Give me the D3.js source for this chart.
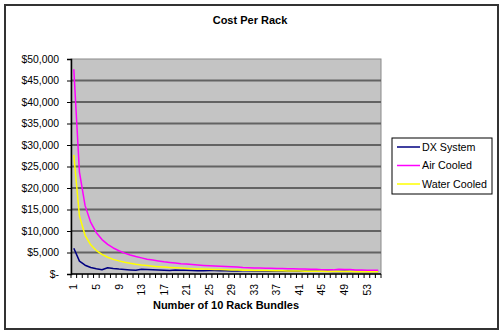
<!DOCTYPE html>
<html>
<head>
<meta charset="utf-8">
<script src="https://cdn.jsdelivr.net/npm/d3@7"></script>
<style>
  html, body { margin: 0; padding: 0; background: #fff; }
  svg { display: block; font-family: "Liberation Sans", Arial, sans-serif; }
</style>
</head>
<body>
<svg id="chart" width="503" height="336"></svg>
<script>
// Number of 10-rack bundles (1..55)
const bundles = d3.range(1, 56);

// Cost per rack for each cooling option, in dollars
const dxSystem = [
  6000, 3000, 2050, 1500, 1200, 1000, 1470, 1290, 1140, 1030,
  940, 860, 1120, 1040, 970, 910, 860, 810, 950, 900,
  860, 820, 780, 750, 840, 810, 780, 750, 720, 700,
  760, 740, 720, 700, 680, 660, 710, 690, 670, 650,
  640, 620, 660, 650, 630, 620, 600, 590, 620, 610,
  600, 590, 580, 570, 600
];
const airCooled = [
  47600, 23700, 15900, 12000, 9600, 8000, 6900, 6050, 5400, 4850,
  4400, 4050, 3750, 3450, 3250, 3050, 2850, 2700, 2550, 2400,
  2300, 2200, 2100, 2000, 1920, 1850, 1780, 1720, 1660, 1600,
  1500, 1460, 1420, 1380, 1350, 1320, 1290, 1260, 1230, 1200,
  1170, 1140, 1110, 1090, 1000, 980, 960, 1080, 1060, 1040,
  940, 920, 900, 890, 880
];
const waterCooled = [
  27700, 13500, 9000, 6800, 5450, 4550, 3900, 3400, 3050, 2750,
  2500, 2280, 2100, 1950, 1820, 1710, 1610, 1520, 1440, 1370,
  1300, 1240, 1190, 1140, 1100, 1060, 1020, 980, 950, 920,
  890, 860, 840, 820, 790, 770, 750, 730, 710, 700,
  680, 660, 650, 640, 620, 610, 600, 590, 570, 560,
  550, 540, 530, 520, 510
];

const seriesNames = ["DX System", "Air Cooled", "Water Cooled"];
const seriesValues = [dxSystem, airCooled, waterCooled];
const seriesColors = ["#000080", "#ff00ff", "#ffff00"];

const yTicks = d3.range(0, 50001, 5000);
const xLabelStep = 4;

const svg = d3.select("#chart");

// Outer chart frame
svg.append("rect")
  .attr("x", 5).attr("y", 5)
  .attr("width", 493).attr("height", 324)
  .attr("fill", "#fff")
  .attr("stroke", "#333").attr("stroke-width", 2);

const plot = { left: 71, right: 381, top: 59, bottom: 274 };

const x = d3.scaleBand()
  .domain(bundles)
  .range([plot.left, plot.right])
  .paddingInner(0).paddingOuter(0);

const y = d3.scaleLinear()
  .domain([0, 50000])
  .range([plot.bottom, plot.top]);

const cx = d => x(d) + x.bandwidth() / 2;

// Plot area
svg.append("rect")
  .attr("x", plot.left).attr("y", plot.top)
  .attr("width", plot.right - plot.left)
  .attr("height", plot.bottom - plot.top)
  .attr("fill", "#c4c4c4")
  .attr("stroke", "#8a8a8a").attr("stroke-width", 1);

// Horizontal gridlines
svg.append("g")
  .selectAll("line")
  .data(yTicks.filter(v => v > 0 && v < 50000))
  .join("line")
  .attr("x1", plot.left).attr("x2", plot.right)
  .attr("y1", d => y(d)).attr("y2", d => y(d))
  .attr("stroke", "#636363").attr("stroke-width", 2);

// Series lines
const line = d3.line()
  .x((v, i) => cx(bundles[i]))
  .y(v => y(v));

svg.append("g")
  .selectAll("path")
  .data(seriesValues)
  .join("path")
  .attr("d", d => line(d))
  .attr("fill", "none")
  .attr("stroke", (d, i) => seriesColors[i])
  .attr("stroke-width", 1.5)
  .attr("stroke-linejoin", "round");

// Y axis
const fmt = v => v === 0 ? "$-" : "$" + d3.format(",")(v);
const yAxis = svg.append("g")
  .attr("transform", `translate(${plot.left},0)`)
  .call(d3.axisLeft(y).tickValues(yTicks).tickFormat(fmt).tickSize(4).tickPadding(8));
yAxis.select(".domain").attr("stroke", "#000").attr("stroke-width", 1.5);
yAxis.selectAll(".tick line").attr("stroke", "#000");
yAxis.selectAll("text")
  .attr("font-size", "10.4px")
  .attr("fill", "#000")
  .attr("font-family", "'Liberation Sans', Arial, sans-serif");

// X axis: tick marks at category boundaries
const xEdges = bundles.map(b => x(b)).concat([plot.right]);
svg.append("g")
  .selectAll("line")
  .data(xEdges)
  .join("line")
  .attr("x1", d => d).attr("x2", d => d)
  .attr("y1", plot.bottom).attr("y2", plot.bottom + 4)
  .attr("stroke", "#000").attr("stroke-width", 1);

svg.append("line")
  .attr("x1", plot.left).attr("x2", plot.right)
  .attr("y1", plot.bottom).attr("y2", plot.bottom)
  .attr("stroke", "#000").attr("stroke-width", 1.5);

// X labels, rotated
svg.append("g")
  .selectAll("text")
  .data(bundles.filter((b, i) => i % xLabelStep === 0))
  .join("text")
  .attr("transform", d => `translate(${cx(d)},${plot.bottom + 10}) rotate(-90)`)
  .attr("text-anchor", "end")
  .attr("dy", "0.35em")
  .attr("font-size", "10.4px")
  .attr("fill", "#000")
  .text(d => d);

// Titles
svg.append("text")
  .attr("x", 250).attr("y", 24)
  .attr("text-anchor", "middle")
  .attr("font-size", "11px").attr("font-weight", "bold")
  .text("Cost Per Rack");

svg.append("text")
  .attr("x", (plot.left + plot.right) / 2).attr("y", 309)
  .attr("text-anchor", "middle")
  .attr("font-size", "11px").attr("font-weight", "bold")
  .text("Number of 10 Rack Bundles");

// Legend
const legend = svg.append("g").attr("transform", "translate(392,138)");
legend.append("rect")
  .attr("width", 100).attr("height", 56)
  .attr("fill", "#fff").attr("stroke", "#000").attr("stroke-width", 1);
const items = legend.selectAll("g")
  .data(seriesNames)
  .join("g")
  .attr("transform", (d, i) => `translate(0,${9 + i * 18.5})`);
items.append("line")
  .attr("x1", 5).attr("x2", 28)
  .attr("stroke", (d, i) => seriesColors[i]).attr("stroke-width", 1.5);
items.append("text")
  .attr("x", 30).attr("dy", "0.35em")
  .attr("font-size", "10.7px")
  .text(d => d);
</script>
</body>
</html>
